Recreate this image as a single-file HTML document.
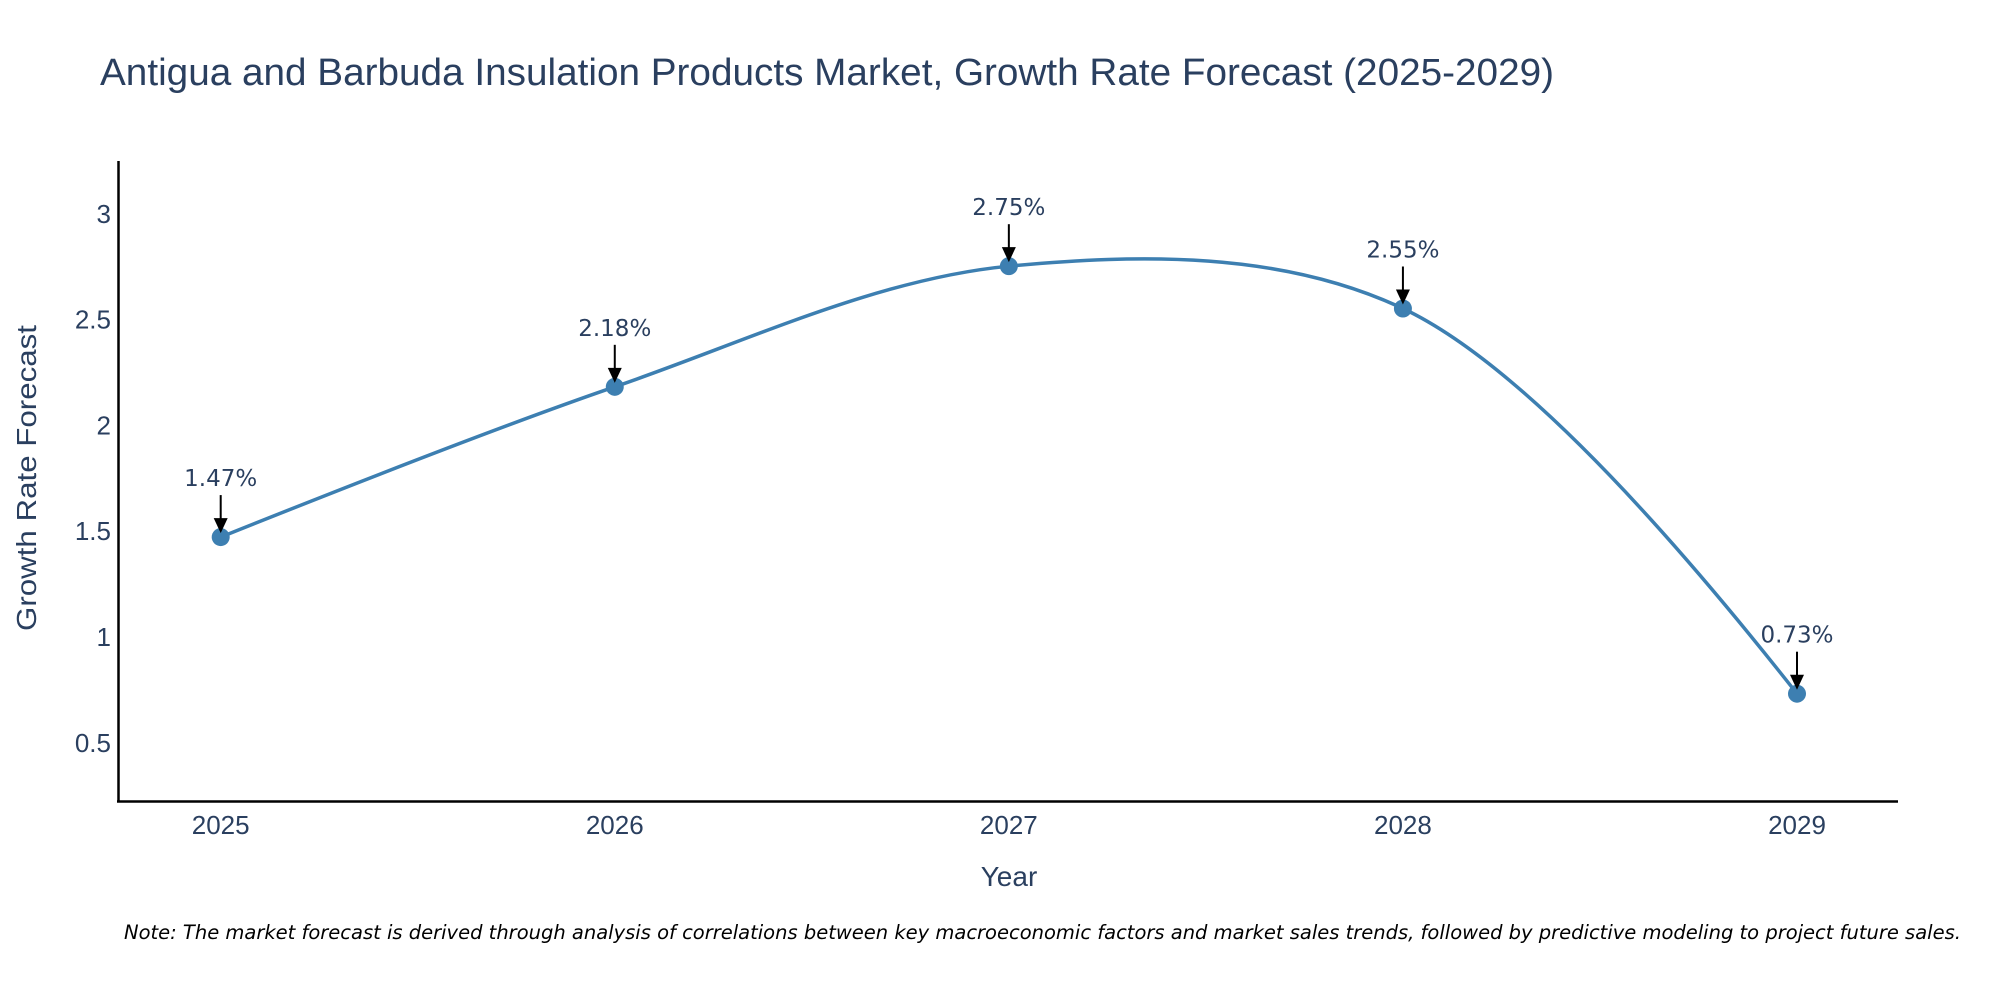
<!DOCTYPE html>
<html><head><meta charset="utf-8"><style>
html,body{margin:0;padding:0;background:#fff;}
svg{display:block;font-family:"Liberation Sans",sans-serif;}
</style></head><body>
<svg id="chart" width="2000" height="1000" viewBox="0 0 2000 1000">
<text x="100" y="85" font-size="38" fill="#2a3f5f" textLength="1454" lengthAdjust="spacingAndGlyphs">Antigua and Barbuda Insulation Products Market, Growth Rate Forecast (2025-2029)</text>
<g id="yticks"></g>
<g id="xticks"></g>
<path id="line" fill="none" stroke="#3d7fb1" stroke-width="3.5"/>
<g id="points"></g>
<g id="annots"></g>
<line x1="118.5" y1="161" x2="118.5" y2="802" stroke="#000" stroke-width="2.5"/>
<line x1="117" y1="801.5" x2="1898" y2="801.5" stroke="#000" stroke-width="2.5"/>
<text x="1009" y="886" font-size="28" fill="#2a3f5f" text-anchor="middle">Year</text>
<text transform="translate(36,478) rotate(-90)" font-size="28" fill="#2a3f5f" text-anchor="middle" textLength="306" lengthAdjust="spacingAndGlyphs">Growth Rate Forecast</text>
<text x="124" y="939" font-size="19.5" font-style="italic" fill="#000" style="font-family:'DejaVu Sans',sans-serif">Note: The market forecast is derived through analysis of correlations between key macroeconomic factors and market sales trends, followed by predictive modeling to project future sales.</text>
</svg>
<script>
const years = [2025, 2026, 2027, 2028, 2029];
const growth = [1.47, 2.18, 2.75, 2.55, 0.73];
const labels = ["1.47%", "2.18%", "2.75%", "2.55%", "0.73%"];
const yTicks = [0.5, 1, 1.5, 2, 2.5, 3];
const yTickLabels = ["0.5", "1", "1.5", "2", "2.5", "3"];

const NS = "http://www.w3.org/2000/svg";
const xMin = 2025, xMax = 2029, px0 = 220.7, px1 = 1797;
const yMin = 0.223, yMax = 3.247, py0 = 801, py1 = 161;
const xs = v => px0 + (v - xMin) / (xMax - xMin) * (px1 - px0);
const ys = v => py0 - (v - yMin) / (yMax - yMin) * (py0 - py1);
function mk(tag, attrs, parent) { const e = document.createElementNS(NS, tag); for (const k in attrs) e.setAttribute(k, attrs[k]); parent.appendChild(e); return e; }

const yt = document.getElementById('yticks');
yTicks.forEach((v, i) => {
  const t = mk('text', {x: 111, y: ys(v) + 9.5, 'font-size': 26, fill: '#2a3f5f', 'text-anchor': 'end'}, yt);
  
  
  t.textContent = yTickLabels[i];
});
const xt = document.getElementById('xticks');
years.forEach(v => {
  const t = mk('text', {x: xs(v), y: 834, 'font-size': 26, fill: '#2a3f5f', 'text-anchor': 'middle'}, xt);
  
  
  t.textContent = String(v);
});

const pts = years.map((y, i) => [xs(y), ys(growth[i])]);
function tangent(p, c, n, s) {
  const d1x = p[0]-c[0], d1y = p[1]-c[1], d2x = n[0]-c[0], d2y = n[1]-c[1];
  const d1a = Math.pow(d1x*d1x+d1y*d1y, 0.25), d2a = Math.pow(d2x*d2x+d2y*d2y, 0.25);
  const numx = (d2a*d2a*d1x - d1a*d1a*d2x)*s, numy = (d2a*d2a*d1y - d1a*d1a*d2y)*s;
  const den1 = 3*d2a*(d1a+d2a), den2 = 3*d1a*(d1a+d2a);
  return [[c[0]+(den1 && numx/den1), c[1]+(den1 && numy/den1)], [c[0]-(den2 && numx/den2), c[1]-(den2 && numy/den2)]];
}
const tg = [];
for (let i = 1; i < pts.length - 1; i++) tg.push(tangent(pts[i-1], pts[i], pts[i+1], 1));
let d = 'M' + pts[0] + 'Q' + tg[0][0] + ' ' + pts[1];
for (let i = 2; i < pts.length - 1; i++) d += 'C' + tg[i-2][1] + ' ' + tg[i-1][0] + ' ' + pts[i];
d += 'Q' + tg[pts.length-3][1] + ' ' + pts[pts.length-1];
document.getElementById('line').setAttribute('d', d);

const pg = document.getElementById('points');
const ag = document.getElementById('annots');
pts.forEach((p, i) => {
  const c = mk('circle', {cx: p[0], cy: p[1], r: 9, fill: '#3d7fb1'}, pg);
  
  
  const ln = mk('line', {x1: p[0], y1: p[1]-42, x2: p[0], y2: p[1]-16, stroke: '#000', 'stroke-width': 2}, ag);
  
  
  const hd = mk('polygon', {points: `${p[0]-7},${p[1]-19} ${p[0]+7},${p[1]-19} ${p[0]},${p[1]-4}`, fill: '#000'}, ag);
  
  
  const t = mk('text', {x: p[0], y: p[1]-51, 'font-size': 23, fill: '#2a3f5f', 'text-anchor': 'middle', style: "font-family:'DejaVu Sans',sans-serif"}, ag);
  
  
  t.textContent = labels[i];
});
</script>
</body></html>
